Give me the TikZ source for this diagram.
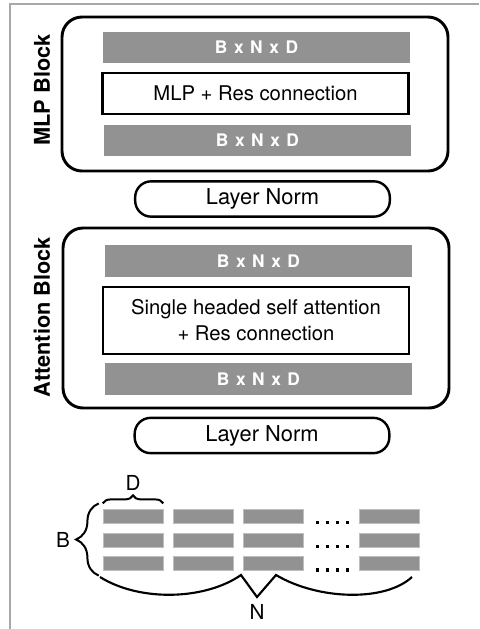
\documentclass[tikz,border=0pt]{standalone}
\usepackage{fontspec}
\setmainfont{TeX Gyre Heros}
\newfontfamily\spacedfont[LetterSpace=10]{TeX Gyre Heros}
\usetikzlibrary{decorations.pathreplacing}
\definecolor{bargray}{HTML}{929292}
\definecolor{framegray}{HTML}{A8A8A8}
\tikzset{block/.style = {draw, line width=2.2pt, rounded corners=15pt, minimum width=289.5pt, inner sep=0}}
\tikzset{dimbar/.style = {fill=bargray, text=white, minimum width=230.25pt, minimum height=23.6pt, inner sep=0, font=\spacedfont\bfseries\fontsize{13}{14}\selectfont}}
\tikzset{opbox/.style = {draw, line width=1.8pt, minimum width=229.5pt, inner sep=0, align=center, font=\fontsize{15.2}{19.5}\selectfont}}
\tikzset{normpill/.style = {draw, line width=1.8pt, rounded corners=12pt, minimum width=191pt, minimum height=26.5pt, inner sep=0, font=\fontsize{16.4}{19}\selectfont}}
\tikzset{blocklabel/.style = {rotate=90, font=\bfseries\fontsize{16.3}{19}\selectfont}}
\tikzset{cell/.style = {fill=bargray, draw=bargray!60, line width=0.4pt, minimum width=45pt, minimum height=10.5pt, inner sep=0}}
\tikzset{dimlabel/.style = {font=\fontsize{15.5}{18}\selectfont, inner sep=0}}

\begin{document}
\begin{tikzpicture}[x=0.75pt, y=-0.75pt]
        \useasboundingbox (0,0) rectangle (479,629);
        \draw [framegray, line width=1.4pt] (479,4) -- (10,4) -- (10,629);
        % MLP block
        \node [block, minimum height=115.5pt] (mlpblock) at (255,94) {};
        \node [dimbar] (mlpin) at (256.5,47.5) {B x N x D};
        \node [opbox, minimum height=30.75pt] (mlp) at (255.5,93.5) {MLP + Res connection};
        \node [dimbar] (mlpout) at (257.5,140.5) {B x N x D};
        \node [blocklabel] (mlplabel) at (42,90) {MLP Block};
        \node [normpill] (norm1) at (262.5,199) {Layer Norm};
        % Attention block
        \node [block, minimum height=135pt] (attblock) at (256,318) {};
        \node [dimbar] (attin) at (258.5,261) {B x N x D};
        \node [opbox, minimum height=50.25pt] (att) at (256,320.5) {Single headed self attention\\+ Res connection};
        \node [dimbar] (attout) at (258.5,379) {B x N x D};
        \node [blocklabel] (attlabel) at (42,317) {Attention Block};
        \node [normpill] (norm2) at (262,435.5) {Layer Norm};
        % token grid
        \foreach \r/\y in {1/516,2/540,3/563} {
            \foreach \c/\x in {1/133,2/203.5,3/273.5,5/389.5}
                \node [cell] (c\r\c) at (\x,\y) {};
        }
        \foreach \y in {522.5,546.5,570}
            \foreach \x in {317.5,327.5,337.5,347.5}
                \fill (\x-1.7,\y-1.7) rectangle (\x+1.7,\y+1.7);
        \draw [line width=1.5pt, decorate, decoration={brace, amplitude=6pt}] ([yshift=4pt]c11.north west) -- ([yshift=4pt]c11.north east);
        \node [dimlabel] (dlabel) at (133,483) {D};
        \draw [line width=1.5pt, decorate, decoration={brace, amplitude=17pt, mirror}] ([xshift=-3pt,yshift=4pt]c11.north west) -- ([xshift=-3pt,yshift=-4pt]c31.south west);
        \node [dimlabel] (blabel) at (63,539.5) {B};
        \coordinate (nleft) at (100,577);
        \coordinate (nright) at (412,577);
        \coordinate (ntip) at (257,597);
        \draw [line width=1.6pt, line join=miter] (nleft) .. controls (140,602) and (205,600) .. (241,575) -- (ntip) -- (276,575) .. controls (318,600) and (385,602) .. (nright);
        \node [dimlabel] (nlabel) at (257,612) {N};
    \end{tikzpicture}
\end{document}
